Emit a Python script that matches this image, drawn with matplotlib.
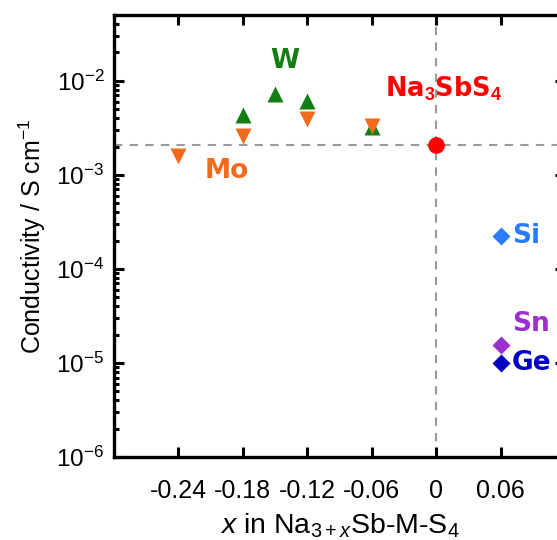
import matplotlib
matplotlib.use("Agg")
import math
import matplotlib.pyplot as plt
from matplotlib.ticker import FixedLocator, LogLocator, NullFormatter, FuncFormatter

plt.rcParams['font.family'] = ['Liberation Sans', 'DejaVu Sans']
plt.rcParams['mathtext.fontset'] = 'custom'
plt.rcParams['mathtext.rm'] = 'Liberation Sans'
plt.rcParams['mathtext.it'] = 'Liberation Sans:italic'
plt.rcParams['mathtext.bf'] = 'Liberation Sans:bold'
plt.rcParams['axes.unicode_minus'] = False

# Data
ref_x = [0.0]
ref_y = [2.1e-3]
w_x = [-0.18, -0.15, -0.12, -0.06]
w_y = [4.3e-3, 7.3e-3, 6.1e-3, 3.2e-3]
mo_x = [-0.24, -0.18, -0.12, -0.06]
mo_y = [1.6e-3, 2.6e-3, 3.9e-3, 3.3e-3]
si_x, si_y = [0.06], [2.25e-4]
sn_x, sn_y = [0.06], [1.55e-5]
ge_x, ge_y = [0.06], [1.0e-5]
xticks = [-0.24, -0.18, -0.12, -0.06, 0, 0.06]
xtick_labels = ['-0.24', '-0.18', '-0.12', '-0.06', '0', '0.06']

c_w = '#137f13'
c_mo = '#f26b1d'
c_ref = '#ff0000'
c_si = '#2b7bff'
c_sn = '#9b2fd0'
c_ge = '#0000c0'

fig = plt.figure(figsize=(5.57, 5.40), dpi=100)
ax = fig.add_axes([0.2047, 0.1537, 0.8097, 0.8185])

ax.set_yscale('log')
ax.set_xlim(-0.3, 0.12)
ax.set_ylim(1e-6, 5e-2)

ax.axhline(ref_y[0], color='#9a9a9a', lw=1.5, ls=(0, (4, 3.5)), zorder=1)
ax.axvline(ref_x[0], color='#9a9a9a', lw=1.5, ls=(0, (4, 3.5)), zorder=1)

ax.plot(w_x, w_y, '^', color=c_w, ms=11, mec='none', zorder=3)
ax.plot(mo_x, mo_y, 'v', color=c_mo, ms=11, mec='none', zorder=4)
ax.plot(ref_x, ref_y, 'o', color=c_ref, ms=12, mec='none', zorder=5)
ax.plot(si_x, si_y, 'D', color=c_si, ms=9, mec='none', zorder=5)
ax.plot(sn_x, sn_y, 'D', color=c_sn, ms=9, mec='none', zorder=5)
ax.plot(ge_x, ge_y, 'D', color=c_ge, ms=9, mec='none', zorder=5)

lab_kw = dict(family='DejaVu Sans', fontweight='bold', fontsize=19)
ax.text(-0.141, 1.63e-2, 'W', color=c_w, ha='center', va='center', **lab_kw)
ax.text(-0.195, 1.1e-3, 'Mo', color=c_mo, ha='center', va='center', **lab_kw)
ax.text(0.0075, 8.2e-3, r'Na$_\mathbf{3}$SbS$_\mathbf{4}$', color=c_ref, ha='center', va='center',
        family='DejaVu Sans', fontweight='bold', fontsize=18.5)
ax.text(0.0705, si_y[0], 'Si', color=c_si, ha='left', va='center', **lab_kw)
ax.text(0.0705, 2.6e-5, 'Sn', color=c_sn, ha='left', va='center', **lab_kw)
ax.text(0.0705, ge_y[0], 'Ge', color=c_ge, ha='left', va='center', **lab_kw)

ax.xaxis.set_major_locator(FixedLocator(xticks))
ax.set_xticklabels(xtick_labels)
ax.yaxis.set_major_locator(LogLocator(base=10, numticks=20))
ax.yaxis.set_minor_locator(LogLocator(base=10, subs=[2, 3, 4, 5, 6, 7, 8, 9], numticks=20))
ax.yaxis.set_minor_formatter(NullFormatter())

def yfmt(v, pos):
    e = int(round(math.log10(v)))
    return r'10$^{\mathrm{%d}}$' % e
ax.yaxis.set_major_formatter(FuncFormatter(yfmt))

ax.tick_params(which='both', direction='in', top=True, right=True, width=2.2)
ax.tick_params(which='major', length=7)
ax.tick_params(which='minor', length=3.5)
ax.tick_params(axis='x', which='major', labelsize=18, pad=16)
ax.tick_params(axis='y', which='major', labelsize=17.5, pad=7)
for s in ax.spines.values():
    s.set_linewidth(2.4)

ax.set_xlabel(r'$x$ in Na$_{3+x}$Sb-M-S$_4$', fontsize=20.5, labelpad=6)
ax.set_ylabel(r'Conductivity / S cm$^{-1}$', fontsize=18, labelpad=6)

fig.savefig('out.png', dpi=100)
